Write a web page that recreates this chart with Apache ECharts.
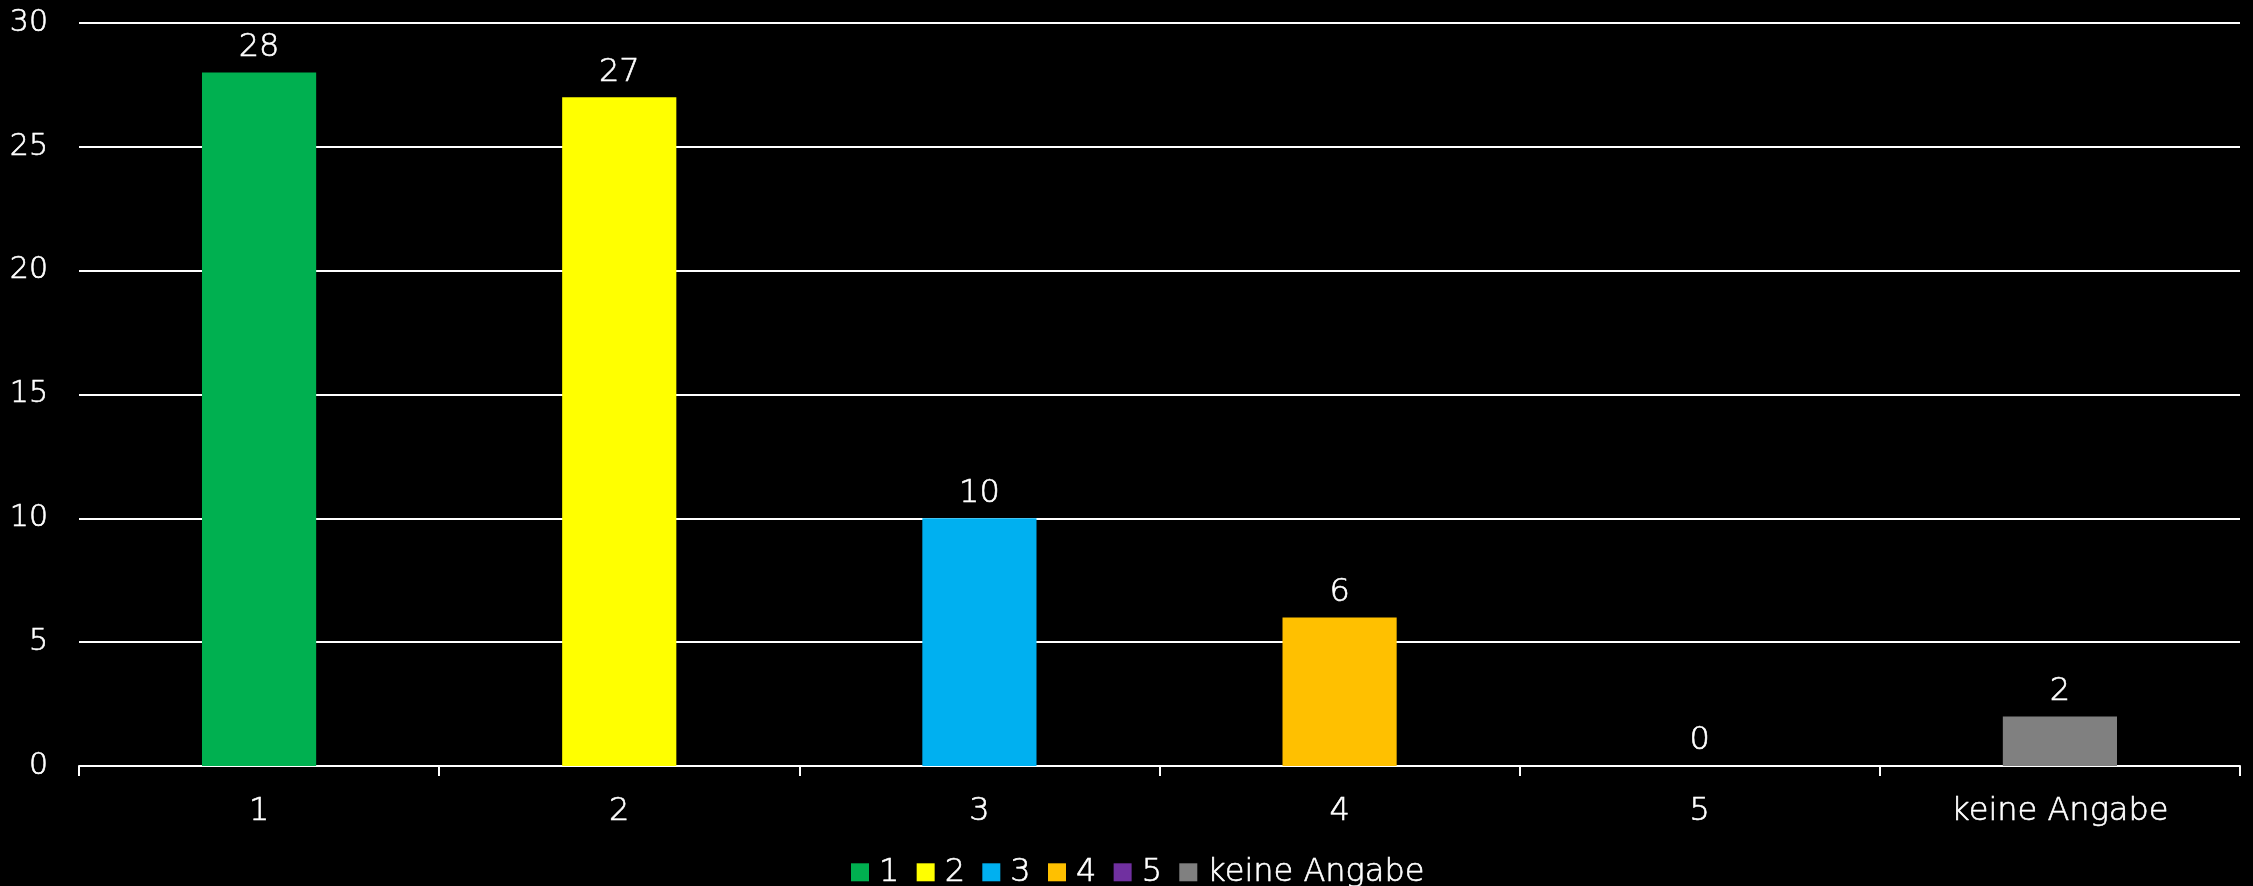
<!DOCTYPE html>
<html>
<head>
<meta charset="utf-8">
<script src="https://cdn.jsdelivr.net/npm/echarts@6/dist/echarts.min.js"></script>
<style>
html,body{margin:0;padding:0;background:#000;}
#chart{width:2253px;height:886px;}
</style>
</head>
<body>
<div id="chart"></div>
<script>
const categories = ['1', '2', '3', '4', '5', 'keine Angabe'];
const values = [28, 27, 10, 6, 0, 2];
const colors = ['#00B050', '#FFFF00', '#00B0F0', '#FFC000', '#7030A0', '#808080'];
const yTicks = [0, 5, 10, 15, 20, 25, 30];

const FONT = 'DejaVu Sans';
const FW = 200;
const TB = { textBorderColor: '#fff', textBorderWidth: 0.6 };
const series = categories.map((name, i) => ({
  name: name,
  type: 'bar',
  barWidth: '31.7%',
  barGap: '-100%',
  itemStyle: { color: colors[i] },
  label: Object.assign({
    show: true, position: 'top', distance: 9,
    color: '#fff', fontFamily: FONT, fontWeight: FW, fontSize: 32
  }, TB),
  data: categories.map((c, j) => j === i ? values[i] : null)
}));

const chart = echarts.init(document.getElementById('chart'));
chart.setOption({
  backgroundColor: '#000',
  animation: false,
  grid: { left: 79, right: 13, top: 23, bottom: 120 },
  xAxis: {
    type: 'category',
    data: categories,
    axisLine: { lineStyle: { color: '#fff', width: 2 } },
    axisTick: { show: true, length: 10, lineStyle: { color: '#fff', width: 2 } },
    axisLabel: Object.assign({ color: '#fff', fontFamily: FONT, fontWeight: FW, fontSize: 32, margin: 30 }, TB)
  },
  yAxis: {
    type: 'value',
    min: yTicks[0], max: yTicks[yTicks.length - 1], interval: 5,
    axisLine: { show: false },
    axisTick: { show: false },
    splitLine: { lineStyle: { color: '#fff', width: 2 } },
    axisLabel: Object.assign({ color: '#fff', fontFamily: FONT, fontWeight: FW, fontSize: 30, margin: 31 }, TB)
  },
  legend: {
    left: 846, top: 851,
    itemWidth: 18, itemHeight: 18, itemGap: 17,
    icon: 'rect',
    textStyle: Object.assign({ color: '#fff', fontFamily: FONT, fontWeight: FW, fontSize: 32, padding: [0, 0, 0, 5] }, TB),
    data: categories
  },
  series: series
});
</script>
</body>
</html>
